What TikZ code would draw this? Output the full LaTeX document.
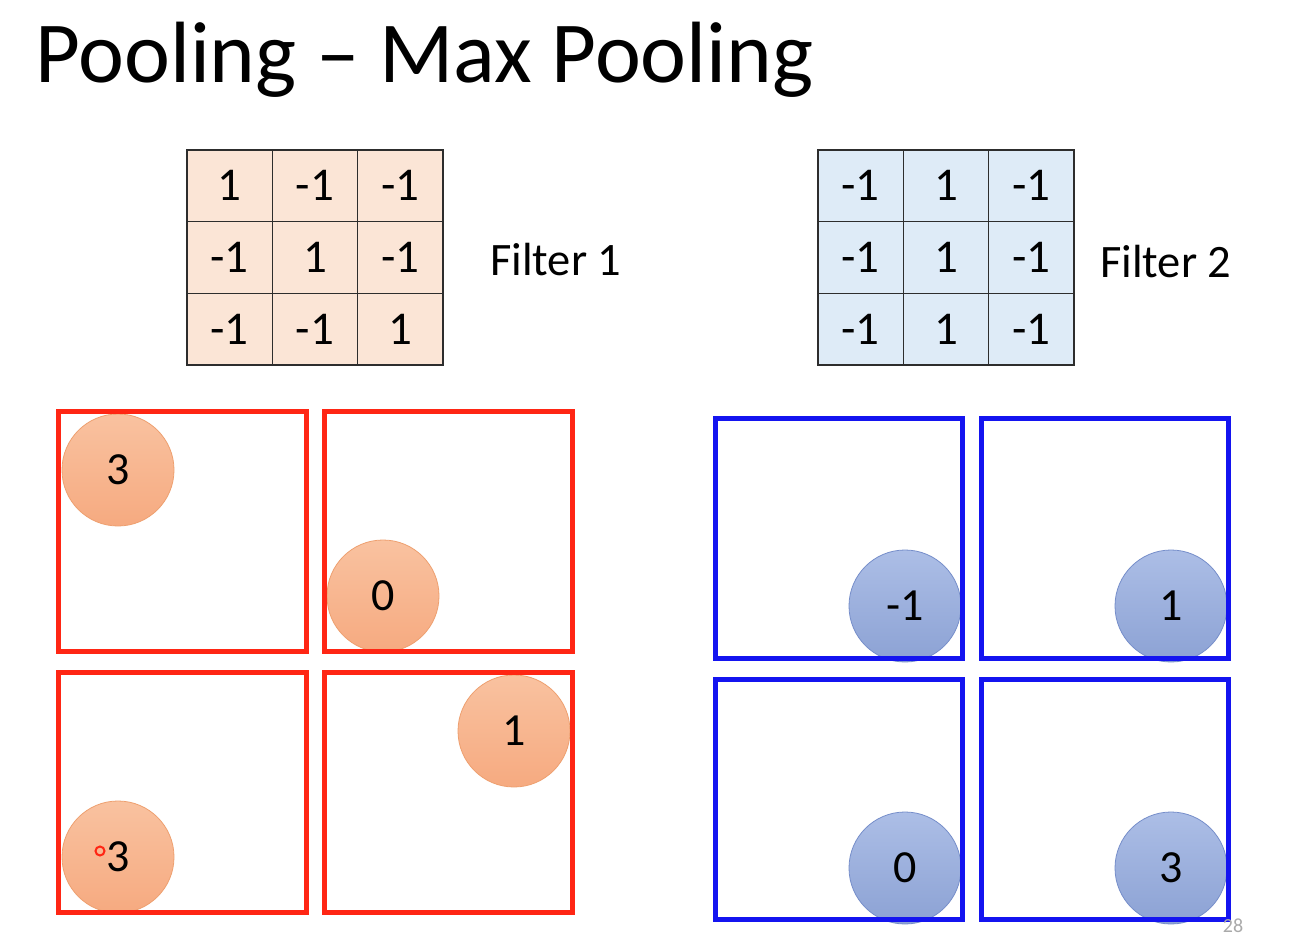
\documentclass[tikz,border=0pt]{standalone}
\usepackage{fontspec}
\setmainfont{Carlito}
\definecolor{peach}{RGB}{251,229,214}
\definecolor{lblue}{RGB}{222,235,247}
\definecolor{gridc}{RGB}{45,45,45}
\definecolor{boxred}{RGB}{255,38,20}
\definecolor{boxblue}{RGB}{20,20,240}
\definecolor{orT}{RGB}{249,194,160}
\definecolor{orB}{RGB}{246,170,128}
\definecolor{orD}{RGB}{238,160,112}
\definecolor{blT}{RGB}{172,190,230}
\definecolor{blB}{RGB}{140,162,212}
\definecolor{blD}{RGB}{118,142,202}
\definecolor{pgray}{RGB}{170,170,170}
\begin{document}
\begin{tikzpicture}[x=1pt,y=-1pt,
  cellbase/.style={draw=gridc, line width=1.6pt, minimum width=85.33pt, minimum height=71.67pt, inner sep=0pt, font=\fontsize{47}{50}\selectfont},
  cellA/.style={cellbase, fill=peach},
  cellB/.style={cellbase, fill=lblue},
  lbl/.style={font=\fontsize{46.5}{50}\selectfont, inner sep=0pt},
  redbox/.style={draw=boxred, line width=5pt, minimum width=248pt, minimum height=240pt, inner sep=0pt},
  bluebox/.style={draw=boxblue, line width=5pt, minimum width=247pt, minimum height=240pt, inner sep=0pt},
  ocirc/.style={circle, draw=orD, line width=0.8pt, top color=orT, bottom color=orB, minimum size=112pt, inner sep=0pt, font=\fontsize{46}{50}\selectfont},
  bcirc/.style={circle, draw=blD, line width=0.8pt, top color=blT, bottom color=blB, minimum size=112pt, inner sep=0pt, font=\fontsize{46}{50}\selectfont}
]
\useasboundingbox (0,0) rectangle (1309,949);
\fill[white] (0,0) rectangle (1309,949);

% title
\node[anchor=base west, inner sep=0pt, font=\fontsize{87}{90}\selectfont] (title) at (35,83) {Pooling – Max Pooling};

% filter 1
\foreach \v [count=\i from 0] in {1,-1,-1,-1,1,-1,-1,-1,1}{
  \pgfmathtruncatemacro{\rr}{div(\i,3)}
  \pgfmathtruncatemacro{\cc}{mod(\i,3)}
  \node[cellA] (fa-\rr-\cc) at ({229.67+85.33*\cc},{185.83+71.67*\rr}) {\v};
}
\node[lbl, anchor=west] (f1lbl) at (490,260) {Filter 1};

% filter 2
\foreach \v [count=\i from 0] in {-1,1,-1,-1,1,-1,-1,1,-1}{
  \pgfmathtruncatemacro{\rr}{div(\i,3)}
  \pgfmathtruncatemacro{\cc}{mod(\i,3)}
  \node[cellB] (fb-\rr-\cc) at ({860.67+85.33*\cc},{185.83+71.67*\rr}) {\v};
}
\node[lbl, anchor=west] (f2lbl) at (1100,262) {Filter 2};

% orange circles
\node[ocirc] (o1) at (118,470) {3};
\node[ocirc] (o2) at (383,596) {0};
\node[ocirc] (o3) at (514,731) {1};
\node[ocirc] (o4) at (118,857) {3};

% blue circles
\node[bcirc] (b1) at (905,606) {-1};
\node[bcirc] (b2) at (1171,606) {1};
\node[bcirc] (b3) at (905,868) {0};
\node[bcirc] (b4) at (1171,868) {3};

% red boxes
\node[redbox] (r1) at (182,531) {};
\node[redbox] (r2) at (448,531) {};
\node[redbox] (r3) at (182,792) {};
\node[redbox] (r4) at (448,792) {};

% blue boxes
\node[bluebox] (q1) at (838.5,538) {};
\node[bluebox] (q2) at (1104.5,538) {};
\node[bluebox] (q3) at (838.5,799) {};
\node[bluebox] (q4) at (1104.5,799) {};

% cursor ring
\node[circle, draw=boxred, line width=2pt, minimum size=9pt, inner sep=0pt] (cur) at (100,851) {};

% page number
\node[inner sep=0pt, text=pgray, font=\fontsize{20}{22}\selectfont] (pg) at (1233,926) {28};
\end{tikzpicture}
\end{document}
